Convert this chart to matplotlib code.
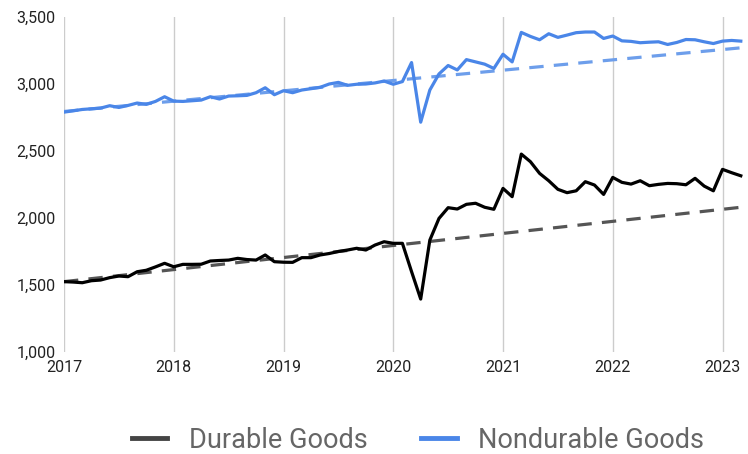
import matplotlib.pyplot as plt
import numpy as np
from matplotlib.lines import Line2D

# monthly values, Jan 2017 .. Mar 2023
nondurable = [2790, 2800, 2810, 2815, 2820, 2838, 2825, 2840, 2858, 2848, 2870, 2905,
              2872, 2870, 2875, 2880, 2905, 2888, 2910, 2912, 2915, 2935, 2972, 2920,
              2950, 2935, 2955, 2965, 2975, 3000, 3012, 2990, 2998, 3000, 3008, 3022,
              2998, 3018, 3160, 2715, 2955, 3075, 3138, 3105, 3182, 3165, 3148, 3116,
              3222, 3165, 3385, 3355, 3330, 3375, 3348, 3365, 3383, 3388, 3388, 3340,
              3358, 3322, 3318, 3308, 3312, 3315, 3295, 3310, 3332, 3330, 3315, 3302,
              3320, 3325, 3320]
durable = [1525, 1522, 1517, 1532, 1537, 1555, 1567, 1562, 1599, 1610, 1635, 1662,
           1636, 1654, 1654, 1655, 1679, 1683, 1686, 1699, 1690, 1686, 1724, 1674,
           1670, 1669, 1704, 1704, 1724, 1735, 1750, 1761, 1774, 1761, 1798, 1823,
           1811, 1811, 1600, 1395, 1835, 1997, 2077, 2067, 2102, 2110, 2080, 2065,
           2221, 2159, 2477, 2420, 2333, 2278, 2214, 2189, 2203, 2271, 2246, 2176,
           2303, 2266, 2253, 2278, 2241, 2251, 2258, 2256, 2248, 2296, 2238, 2203,
           2363, 2338, 2315]
# pre-pandemic trend lines, start and end values
trend_durable = [1525, 2080]
trend_nondurable = [2795, 3270]
years = [2017, 2018, 2019, 2020, 2021, 2022, 2023]

x = 2017 + np.arange(len(durable)) / 12
x_ends = [x[0], x[-1]]

fig = plt.figure(figsize=(7.48, 4.54), dpi=100)
ax = fig.add_axes([64 / 748, 102 / 454, 679 / 748, 335 / 454])

ax.plot(x_ends, trend_nondurable, color='#6d9eeb', lw=2.3, dashes=(4.5, 3.2))
ax.plot(x_ends, trend_durable, color='#555555', lw=2.3, dashes=(4.5, 3.2))
ax.plot(x, nondurable, color='#4a86e8', lw=2.3)
ax.plot(x, durable, color='#000000', lw=2.3)

ax.set_xlim(2017, x[-1] + 0.02)
ax.set_ylim(1000, 3500)
ax.set_xticks(years)
ax.set_xticklabels([str(y) for y in years])
ax.set_yticks([1000, 1500, 2000, 2500, 3000, 3500])
ax.set_yticklabels(['1,000', '1,500', '2,000', '2,500', '3,000', '3,500'])
ax.grid(axis='x', color='#cccccc', lw=1)
ax.set_axisbelow(True)
for s in ax.spines.values():
    s.set_visible(False)
ax.tick_params(length=0, labelsize=11.5, labelcolor='#222222', pad=6)
for t in ax.get_xticklabels() + ax.get_yticklabels():
    t.set_family('Roboto')

handles = [Line2D([], [], color='#444444', lw=3.5),
           Line2D([], [], color='#4a86e8', lw=3.5)]
fig.legend(handles, ['Durable Goods', 'Nondurable Goods'], loc='center',
           bbox_to_anchor=(418 / 748, 1 - 440 / 454), ncol=2, frameon=False,
           prop={'family': 'Roboto', 'size': 19.5}, labelcolor='#666666',
           handlelength=1.3, columnspacing=2.0, handletextpad=0.8)

fig.savefig('out.png', dpi=100)
